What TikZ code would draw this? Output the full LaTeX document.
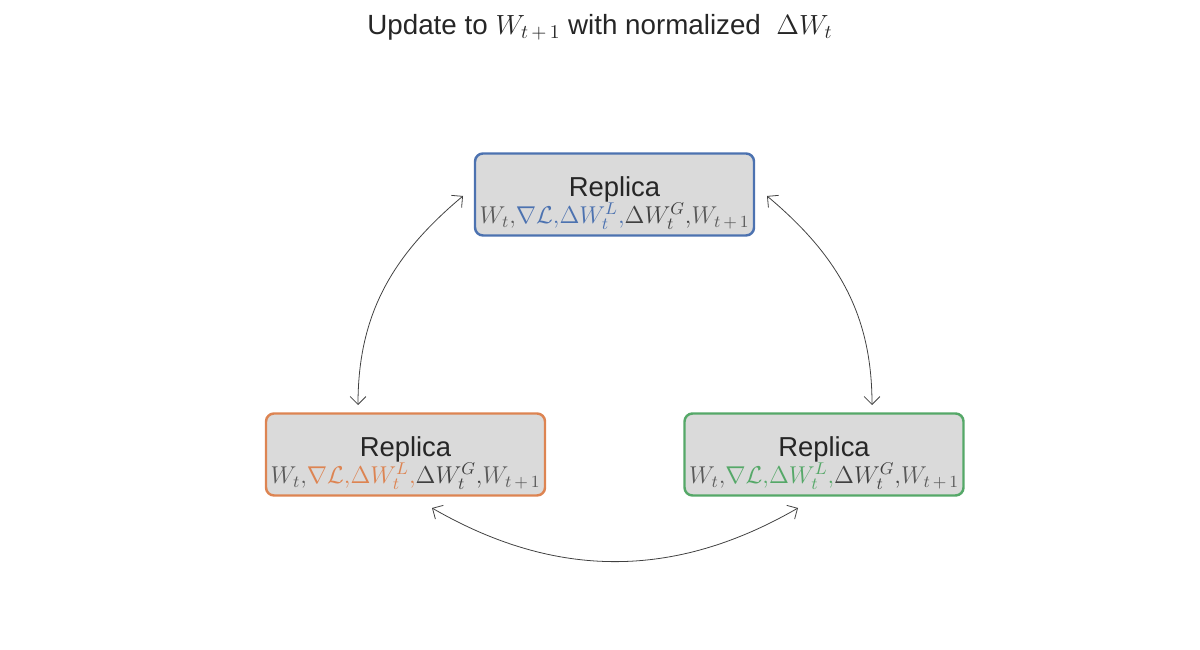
\RequirePackage{fix-cm}
\documentclass[tikz,border=0pt]{standalone}
\usepackage{fontspec}
\setmainfont{Liberation Sans}
\usetikzlibrary{positioning,arrows.meta}

\definecolor{repblue}{HTML}{4C72B0}
\definecolor{reporange}{HTML}{DD8452}
\definecolor{repgreen}{HTML}{55A868}
\definecolor{boxgray}{HTML}{DADADA}
\definecolor{txtdark}{HTML}{262626}
\definecolor{mathgray}{HTML}{5A5A5A}
\definecolor{mathdark}{HTML}{404040}
\definecolor{linkgray}{HTML}{404040}

\newcommand{\repterms}[1]{{\fontsize{13.85}{16}\selectfont$\color{mathgray}W_t{,}\color{#1}\nabla\mathcal{L}{,}\Delta W_t^L{,}\color{mathdark}\Delta W_t^G{,}\color{mathgray}W_{t\,+\,1}$}}

\tikzset{
  replica/.style={draw, line width=1.4pt, rounded corners=0.16cm, fill=boxgray,
    minimum width=5.58cm, minimum height=1.64cm, inner sep=0pt, align=center,
    text=txtdark, font=\fontsize{15.6}{18}\selectfont},
  link/.style={draw=linkgray, line width=0.45pt,
    {Straight Barb[length=4.5pt,width=9pt]}-{Straight Barb[length=4.5pt,width=9pt]}}
}

\begin{document}
\begin{tikzpicture}
\useasboundingbox (0,0) rectangle (24,13);

\def\xl{8.11}
\def\xt{12.29}
\def\xr{16.48}
\def\yt{9.11}
\def\yb{3.91}

\node[font=\fontsize{15.8}{18}\selectfont, text=txtdark] (title) at (12, 12.46)
  {Update to $W_{t\,+\,1}$ with normalized \ $\Delta W_t$};

\node[replica, draw=repblue] (rtop) at (\xt, \yt)
  {\rule{0pt}{21pt}Replica\\[-2.5pt]\repterms{repblue}};
\node[replica, draw=reporange] (rleft) at (\xl, \yb)
  {\rule{0pt}{21pt}Replica\\[-2.5pt]\repterms{reporange}};
\node[replica, draw=repgreen] (rright) at (\xr, \yb)
  {\rule{0pt}{21pt}Replica\\[-2.5pt]\repterms{repgreen}};

% arrow ends
\coordinate (la) at (7.16, 4.90);
\coordinate (lb) at (9.26, 9.08);
\coordinate (ra) at (15.34, 9.08);
\coordinate (rb) at (17.44, 4.90);
\coordinate (ba) at (8.64, 2.84);
\coordinate (bb) at (15.96, 2.84);

\draw[link] (la) to [out=90, in=220] (lb);
\draw[link] (ra) to [out=-40, in=90] (rb);
\draw[link] (ba) to [bend right=30] (bb);

\end{tikzpicture}
\end{document}
